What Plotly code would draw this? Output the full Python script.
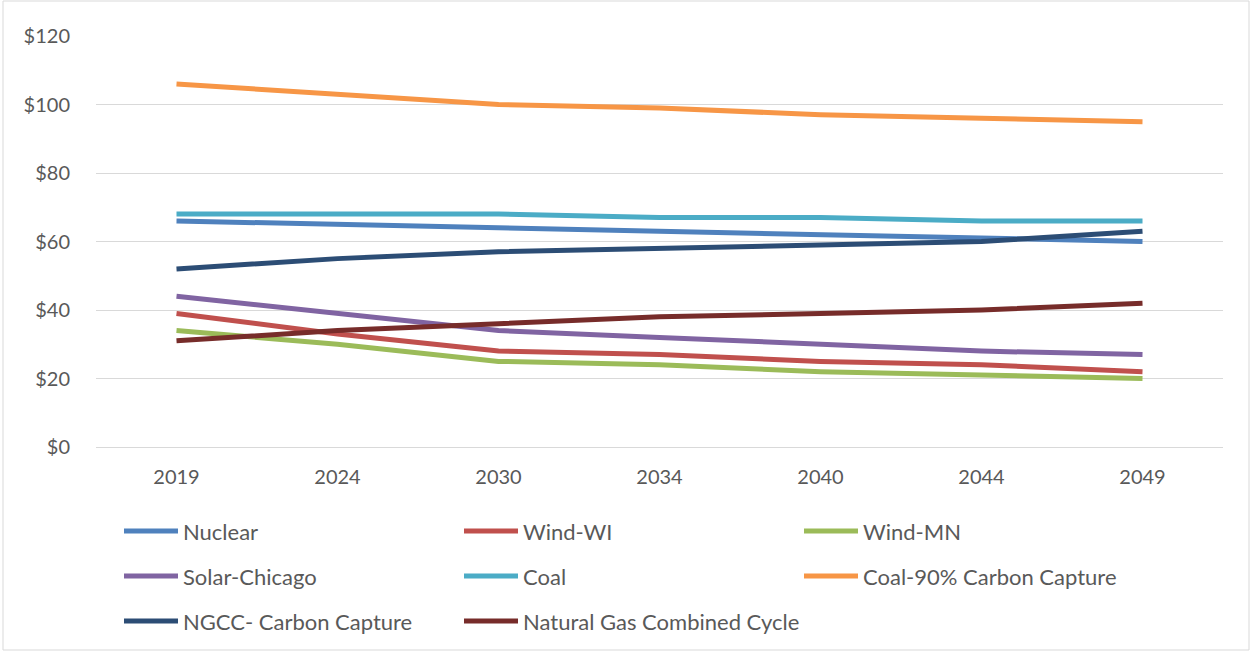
import plotly.graph_objects as go

years = ["2019", "2024", "2030", "2034", "2040", "2044", "2049"]

nuclear = [66, 65, 64, 63, 62, 61, 60]
wind_wi = [39, 33, 28, 27, 25, 24, 22]
wind_mn = [34, 30, 25, 24, 22, 21, 20]
solar_chicago = [44, 39, 34, 32, 30, 28, 27]
coal = [68, 68, 68, 67, 67, 66, 66]
coal_ccs = [106, 103, 100, 99, 97, 96, 95]
ngcc_ccs = [52, 55, 57, 58, 59, 60, 63]
ngcc = [31, 34, 36, 38, 39, 40, 42]

series = [
    ("Nuclear", nuclear, "#4F81BD"),
    ("Wind-WI", wind_wi, "#C0504D"),
    ("Wind-MN", wind_mn, "#9BBB59"),
    ("Solar-Chicago", solar_chicago, "#8064A2"),
    ("Coal", coal, "#4BACC6"),
    ("Coal-90% Carbon Capture", coal_ccs, "#F79646"),
    ("NGCC- Carbon Capture", ngcc_ccs, "#2C4D75"),
    ("Natural Gas Combined Cycle", ngcc, "#772C2A"),
]

W, H = 1252, 651
ml, mr, mt, mb = 96, 29, 36, 204
pw, ph = W - ml - mr, H - mt - mb


def px_x(x):
    return (x - ml) / pw


def px_y(y):
    return (H - mb - y) / ph


fig = go.Figure()
shapes = []
annotations = []
for i, (name, vals, col) in enumerate(series):
    fig.add_trace(go.Scatter(x=years, y=vals, name=name, mode="lines",
                             line=dict(color=col, width=5), showlegend=False))
    # legend laid out like the Excel one: 3 columns, wide rows
    c, r = i % 3, i // 3
    x0 = 124 + 340 * c
    yy = 531 + 45 * r
    shapes.append(dict(type="line", xref="paper", yref="paper",
                       x0=px_x(x0), x1=px_x(x0 + 54), y0=px_y(yy), y1=px_y(yy),
                       line=dict(color=col, width=5)))
    annotations.append(dict(text=name, xref="paper", yref="paper",
                            x=px_x(x0 + 57), y=px_y(yy), xanchor="left", yanchor="middle",
                            showarrow=False, font=dict(size=22, color="#595959")))

shapes.append(dict(type="rect", xref="paper", yref="paper",
                   x0=px_x(3), x1=px_x(W - 3), y0=px_y(H - 1), y1=px_y(1),
                   line=dict(color="#D9D9D9", width=1)))

fig.update_layout(
    width=W, height=H,
    margin=dict(l=ml, r=mr, t=mt, b=mb),
    plot_bgcolor="white", paper_bgcolor="white",
    font=dict(family="Lato, Open Sans, sans-serif", size=20, color="#595959"),
    showlegend=False,
    xaxis=dict(type="category", range=[-0.5, 6.5], showgrid=False, showline=False,
               ticks="outside", ticklen=12, tickcolor="rgba(0,0,0,0)",
               tickfont=dict(size=20, color="#595959"), automargin=False),
    yaxis=dict(range=[0, 120], dtick=20, tickprefix="$", gridcolor="#D9D9D9",
               gridwidth=1, zeroline=True, zerolinecolor="#D9D9D9", zerolinewidth=1,
               showline=False, ticklabelstandoff=25, automargin=False,
               tickfont=dict(size=20, color="#595959")),
    shapes=shapes,
    annotations=annotations,
)

# drop the default 8px body margin so the figure sits at the window's corner
fig.write_html("out.html", config={"displayModeBar": False},
               post_script="document.body.style.margin='0';")
